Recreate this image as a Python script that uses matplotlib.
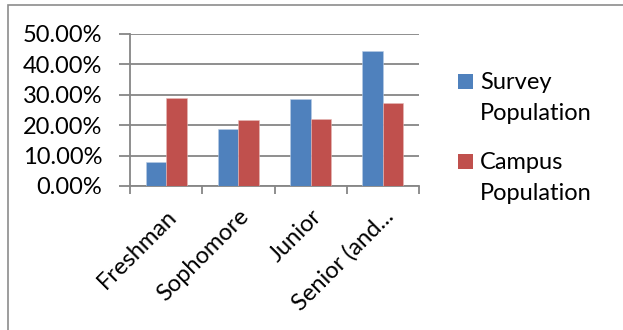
import numpy as np
import matplotlib.pyplot as plt
import matplotlib.transforms as mtransforms
from matplotlib.patches import Rectangle

categories = ['Freshman', 'Sophomore', 'Junior', 'Senior (and...']
survey_pct = [7.9, 18.8, 28.7, 44.5]
campus_pct = [29.0, 21.6, 22.0, 27.3]
y_ticks = [0, 10, 20, 30, 40, 50]
series_names = ['Survey\nPopulation', 'Campus\nPopulation']

blue = '#4f81bd'
red = '#c0504d'
axis_gray = '#868686'
fs = 17

plt.rcParams['font.family'] = ['Lato', 'DejaVu Sans']

W, H = 623, 330
fig = plt.figure(figsize=(W / 100, H / 100), dpi=100)

# outer chart frame (only top and left edges fall inside the canvas)
fig.patches.append(Rectangle((8 / W, -0.1), 1.2, (H - 5) / H + 0.1,
                             transform=fig.transFigure, fill=False,
                             edgecolor='#8c8c8c', linewidth=1.2))

ax = fig.add_axes([130 / W, 1 - 186 / H, (419 - 130) / W, (186 - 34) / H])

x = np.arange(len(categories))
bw = 0.285
ax.bar(x - bw / 2, survey_pct, bw, color=blue, edgecolor='#b9cde5', linewidth=0.4,
       zorder=3)
ax.bar(x + bw / 2, campus_pct, bw, color=red, edgecolor='#e6b9b8', linewidth=0.4,
       zorder=3)

ax.set_xlim(-0.5, len(categories) - 0.5)
ax.set_ylim(0, 50)
ax.set_yticks(y_ticks)
ax.set_yticklabels([f'{v:.2f}%' for v in y_ticks], fontsize=fs)
ax.yaxis.grid(True, color=axis_gray, linewidth=1.3, zorder=0)

ax.set_xticks(x)
ax.set_xticklabels(categories, rotation=45, ha='right', rotation_mode='anchor',
                   fontsize=fs)
# nudge the slanted labels a little to the left
shift = mtransforms.ScaledTranslation(-10 / 100, 0, fig.dpi_scale_trans)
for lbl in ax.get_xticklabels():
    lbl.set_transform(lbl.get_transform() + shift)
ax.set_xticks(np.arange(-0.5, len(categories)), minor=True)
ax.tick_params(axis='x', which='major', length=0, pad=14)
ax.tick_params(axis='x', which='minor', length=6, width=1.3, color=axis_gray,
               direction='out')
ax.tick_params(axis='y', length=8, width=1.3, color=axis_gray, pad=12)

for side in ['top', 'right']:
    ax.spines[side].set_visible(False)
for side in ['left', 'bottom']:
    ax.spines[side].set_color(axis_gray)
    ax.spines[side].set_linewidth(1.3)

# legend: square swatch next to the first line of each two-line name
for i, (name, color) in enumerate(zip(series_names, [blue, red])):
    top = 74 + i * 80
    fig.patches.append(Rectangle((458 / W, 1 - (top + 15) / H), 15 / W, 15 / H,
                                 transform=fig.transFigure, facecolor=color,
                                 edgecolor='none'))
    fig.text(480 / W, 1 - (top - 2) / H, name, fontsize=fs, va='top',
             ha='left', linespacing=1.6)

fig.savefig('out.png', dpi=100)
